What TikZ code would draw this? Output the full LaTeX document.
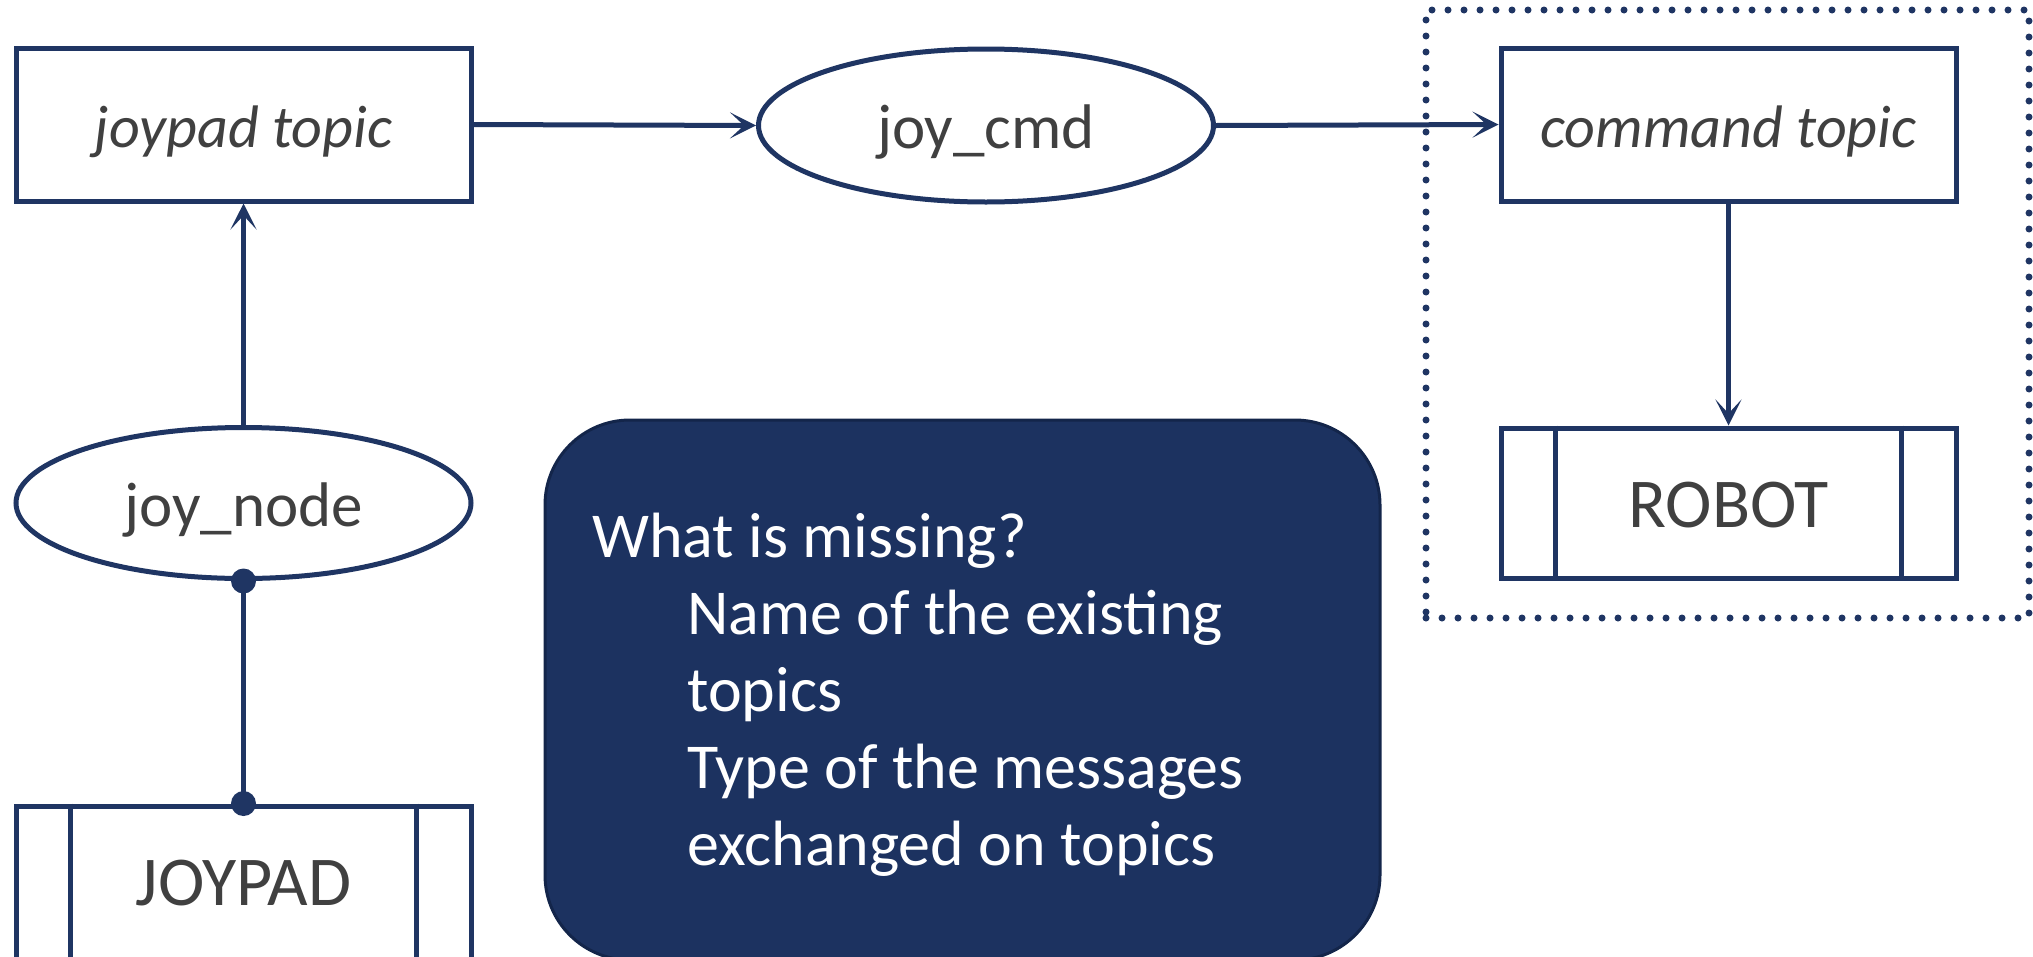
\documentclass[tikz,border=0pt]{standalone}
\usepackage{fontspec}
\setmainfont{Carlito}
\usetikzlibrary{arrows.meta,shapes.geometric}

\definecolor{navy}{HTML}{1F3563}
\definecolor{notefill}{HTML}{1C3260}
\definecolor{noteedge}{HTML}{13254A}
\definecolor{ink}{HTML}{404040}

\begin{document}
\begin{tikzpicture}[x=1pt,y=1pt,
  frame/.style={draw=navy, line width=5pt, fill=white, inner sep=0pt,
    text=ink, text height=46pt, text depth=0pt,
    font=\fontsize{63}{70}\selectfont},
  topicbox/.style={frame, rectangle, minimum width=455pt, minimum height=153pt,
    font=\fontsize{60}{70}\selectfont\itshape},
  nodeoval/.style={frame, ellipse, minimum width=455pt},
  devicebox/.style={frame, rectangle, minimum width=455pt, text height=48pt,
    font=\fontsize{70}{80}\selectfont},
  conn/.style={draw=navy, line width=5pt},
  flow/.style={conn, -{Stealth[length=26pt, width=26pt, inset=14pt]}},
  bar/.style={draw=navy, line width=5pt},
  dotpin/.style={fill=navy},
  group/.style={draw=navy, line width=7pt, line cap=round,
    dash pattern=on 0pt off 16pt, inner sep=0pt},
  note/.style={rectangle, rounded corners=85pt, fill=notefill, draw=noteedge,
    line width=3pt, inner sep=0pt},
  notetext/.style={text=white, align=left, inner sep=0pt,
    font=\fontsize{64}{77}\selectfont}
]
\useasboundingbox (0,0) rectangle (2033,-956);

% dotted frame around the robot side
\node[group, minimum width=603pt, minimum height=608pt] (robotside) at (1727.5,-314) {};

% topics, nodes and devices
\node[topicbox] (jtopic) at (243.5,-124.5) {joypad topic};
\node[nodeoval, minimum height=153pt] (jcmd) at (986,-125.5) {joy\_cmd};
\node[topicbox] (ctopic) at (1728.5,-124.5) {command topic};
\node[nodeoval, minimum height=151pt] (jnode) at (243.5,-503) {joy\_node};
\node[devicebox, minimum height=150pt] (robot) at (1728.5,-503) {ROBOT};
\node[devicebox, anchor=base, text height=99pt, text depth=140pt] (joypad) at (243.5,-905) {JOYPAD};

% side bars of the device boxes
\foreach \dev in {robot,joypad}{
  \draw[bar] ([xshift=57pt]\dev.north west) -- ([xshift=57pt]\dev.south west);
  \draw[bar] ([xshift=-57pt]\dev.north east) -- ([xshift=-57pt]\dev.south east);
}

% connectors
\draw[flow] (jtopic.east) -- (jcmd.west);
\draw[flow] (jcmd.east) -- (ctopic.west);
\draw[flow] (ctopic.south) -- (robot.north);
\draw[flow] (jnode.north) -- (jtopic.south);
\draw[conn] (jnode.south) -- (joypad.north);
\fill[dotpin] (jnode.south) circle (12.5pt);
\fill[dotpin] (joypad.north) circle (12.5pt);

% question box
\node[note, minimum width=835pt, minimum height=540pt] (question) at (962.5,-690) {};
\node[notetext, anchor=north west] (answer) at (592,-513) {What is missing?\\
\hspace*{95pt}Name of the existing\\
\hspace*{95pt}topics\\
\hspace*{95pt}Type of the messages\\
\hspace*{95pt}exchanged on topics};
\end{tikzpicture}
\end{document}
